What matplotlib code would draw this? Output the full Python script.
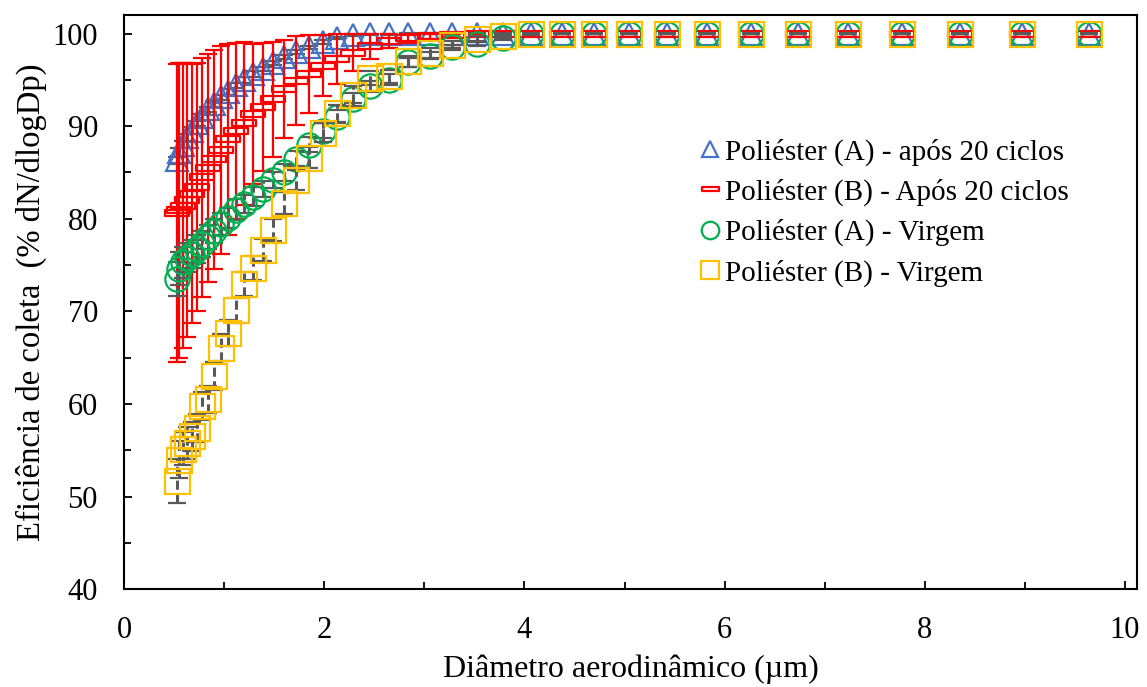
import matplotlib
matplotlib.use('Agg')
import matplotlib.pyplot as plt
from matplotlib.path import Path
import numpy as np

plt.rcParams['font.family'] = ['Liberation Serif', 'DejaVu Serif']

# diametro aerodinamico (um) - canais do APS
diam = [0.523, 0.542, 0.583, 0.626, 0.673, 0.723, 0.777, 0.835, 0.898, 0.965,
        1.037, 1.114, 1.197, 1.286, 1.382, 1.486, 1.596, 1.715, 1.843, 1.981,
        2.129, 2.288, 2.458, 2.642, 2.839, 3.051, 3.278, 3.523, 3.786, 4.068,
        4.371, 4.698, 5.048, 5.425, 5.829, 6.264, 6.732, 7.234, 7.774, 8.354,
        8.977, 9.647]

# Poliester (A) - apos 20 ciclos
ef_a20 = [86.3, 87.2, 88.0, 88.8, 89.5, 90.3, 91.0, 91.8, 92.4, 93.1,
          93.7, 94.4, 95.0, 95.6, 96.2, 96.8, 97.5, 98.0, 98.5, 99.1,
          99.5, 99.8, 99.9, 99.9, 100, 100, 100, 100, 100, 100,
          100, 100, 100, 100, 100, 100, 100, 100, 100, 100,
          100, 100]
err_a20 = [0.4, 0.4, 0.4, 0.4, 0.4, 0.3, 0.3, 0.3, 0.3, 0.3,
           0.3, 0.3, 0.3, 0.3, 0.2, 0.2, 0.2, 0.2, 0.2, 0.2,
           0.1, 0.1, 0.1, 0.1, 0.1, 0.1, 0.1, 0.1, 0.1, 0.1,
           0.1, 0.1, 0.1, 0.1, 0.1, 0.1, 0.1, 0.1, 0.1, 0.1,
           0.1, 0.1]

# Poliester (B) - apos 20 ciclos
ef_b20 = [80.6, 80.9, 81.4, 82.0, 82.7, 83.4, 84.5, 85.5, 86.4, 87.4,
          88.6, 89.5, 90.3, 91.3, 92.1, 92.9, 94.0, 94.9, 95.6, 96.5,
          97.3, 97.9, 98.6, 99.2, 99.5, 99.7, 99.8, 99.9, 99.9, 100,
          100, 100, 100, 100, 100, 100, 100, 100, 100, 100,
          100, 100]
err_b20 = [16.1, 15.9, 15.4, 14.8, 14.0, 13.4, 12.9, 12.3, 11.8, 11.2,
           10.3, 9.5, 8.8, 7.6, 6.9, 6.2, 5.3, 4.8, 4.2, 3.3,
           2.7, 2.0, 1.4, 0.8, 0.5, 0.3, 0.2, 0.1, 0.1, 0.1,
           0.1, 0.1, 0.1, 0.1, 0.1, 0.1, 0.1, 0.1, 0.1, 0.1,
           0.1, 0.1]

# Poliester (A) - Virgem
ef_av = [73.5, 74.6, 75.3, 75.8, 76.2, 76.7, 77.3, 78.0, 78.7, 79.4,
         80.1, 81.0, 81.6, 82.4, 83.2, 84.2, 85.0, 86.5, 88.0, 89.5,
         91.0, 92.9, 94.3, 95.0, 96.9, 97.6, 98.5, 98.9, 99.5, 99.9,
         100, 100, 100, 100, 100, 100, 100, 100, 100, 100,
         100, 100]
err_av = [1.8, 1.8, 1.7, 1.6, 1.5, 1.5, 1.4, 1.3, 1.3, 1.2,
          1.1, 1.1, 1.0, 1.0, 0.9, 0.9, 0.9, 0.8, 0.8, 0.8,
          0.7, 0.7, 0.6, 0.6, 0.5, 0.4, 0.3, 0.3, 0.2, 0.1,
          0.1, 0.1, 0.1, 0.1, 0.1, 0.1, 0.1, 0.1, 0.1, 0.1,
          0.1, 0.1]

# Poliester (B) - Virgem
ef_bv = [51.7, 54.0, 55.2, 55.8, 56.5, 57.4, 59.8, 60.5, 63.0, 66.1,
         67.7, 70.1, 73.0, 74.7, 76.6, 78.8, 81.7, 84.2, 86.6, 89.3,
         91.4, 93.4, 95.2, 95.4, 97.0, 97.9, 98.8, 99.4, 99.7, 100,
         100, 100, 100, 100, 100, 100, 100, 100, 100, 100,
         100, 100]
err_bv = [2.4, 2.0, 1.8, 1.7, 1.6, 1.5, 1.5, 1.5, 1.5, 1.5,
          1.4, 1.4, 1.3, 1.3, 1.2, 1.2, 1.2, 1.1, 1.1, 1.0,
          0.9, 0.9, 0.8, 0.7, 0.6, 0.5, 0.4, 0.3, 0.2, 0.1,
          0.1, 0.1, 0.1, 0.1, 0.1, 0.1, 0.1, 0.1, 0.1, 0.1,
          0.1, 0.1]

labels = ['Poliéster (A) - após 20 ciclos', 'Poliéster (B) - Após 20 ciclos',
          'Poliéster (A) - Virgem', 'Poliéster (B) - Virgem']

# marcador retangular (tipo "-") da serie vermelha
rect = Path([(-1, -0.22), (1, -0.22), (1, 0.22), (-1, 0.22), (-1, -0.22)],
            [Path.MOVETO, Path.LINETO, Path.LINETO, Path.LINETO, Path.CLOSEPOLY])

fig = plt.figure(figsize=(11.47, 6.87), dpi=100)
ax = fig.add_axes([0.1084, 0.1422, 0.991 - 0.1084, 0.9782 - 0.1422])

grey = '#595959'
series = [
    (ef_a20, err_a20, '#4472C4', '^', 16, grey),
    (ef_b20, err_b20, '#FF0000', rect, 17, '#FF0000'),
    (ef_av, err_av, '#00B050', 'o', 17.5, grey),
    (ef_bv, err_bv, '#FFC000', 's', 18, grey),
]

handles = []
for (y, e, c, m, ms, ec), lab in zip(series, labels):
    line, caps, bars = ax.errorbar(diam, y, yerr=e, fmt='none', ecolor=ec,
                                   elinewidth=1.6, capsize=6.5, capthick=1.6)
    for cp in caps:
        cp.set_color(c)
    if ec == grey:
        bars[0].set_linestyle((0, (3, 1.5)))
        bars[0].set_linewidth(2.2)
    h, = ax.plot(diam, y, linestyle='none', marker=m, markersize=ms,
                 markerfacecolor='none', markeredgecolor=c, markeredgewidth=1.6,
                 label=lab)
    handles.append(h)

ax.set_xlim(0, 10.12)
ax.set_ylim(40, 102)
ax.set_xticks(np.arange(0, 11, 2))
ax.set_xticks(np.arange(1, 11, 2), minor=True)
ax.set_yticks(np.arange(40, 101, 10))
ax.set_yticks(np.arange(45, 100, 10), minor=True)
ax.tick_params(which='both', direction='in', labelsize=22, width=1.3)
ax.tick_params(which='major', length=6)
ax.tick_params(which='minor', length=5)
ax.tick_params(axis='y', pad=19)
ax.tick_params(axis='x', pad=19)
for s in ax.spines.values():
    s.set_linewidth(1.5)

ax.set_xlabel('Diâmetro aerodinâmico (µm)', fontsize=23, labelpad=7)
ax.set_ylabel('Eficiência de coleta  (% dN/dlogDp)', fontsize=23.5, labelpad=4)

ax.legend(handles=handles, loc='upper left', bbox_to_anchor=(0.599, 0.82),
          bbox_transform=fig.transFigure, frameon=False, fontsize=21,
          handlelength=0.6, handletextpad=0.2, labelspacing=0.45,
          markerscale=0.72, borderpad=0)

fig.savefig('out.png', dpi=100)
